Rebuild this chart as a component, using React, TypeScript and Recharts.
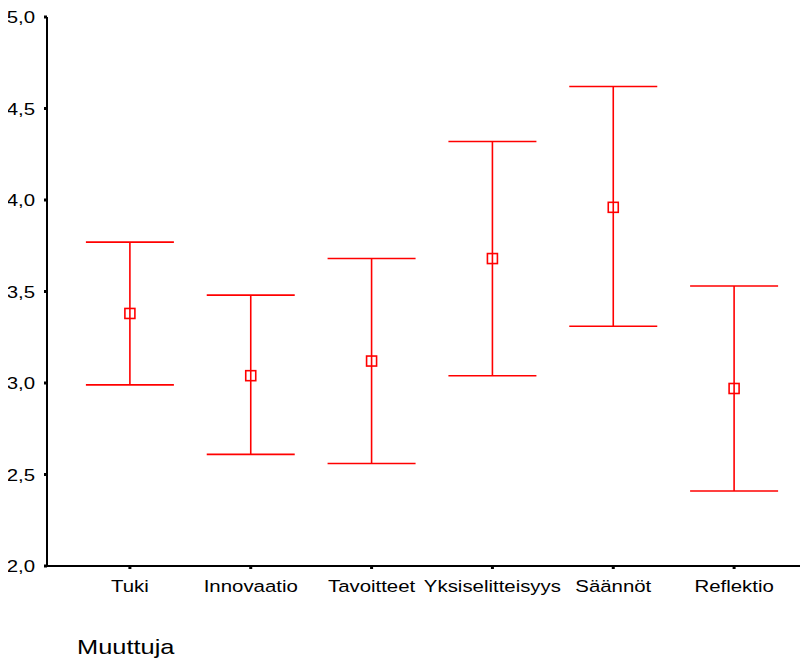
import {
    ComposedChart, Scatter, ErrorBar, XAxis, YAxis,
} from "recharts";

const CATEGORIES = ["Tuki", "Innovaatio", "Tavoitteet", "Yksiselitteisyys", "Säännöt", "Reflektio"];
const MEANS = [3.38, 3.04, 3.12, 3.68, 3.96, 2.97];
const LOWER = [2.99, 2.61, 2.56, 3.04, 3.31, 2.41];
const UPPER = [3.77, 3.48, 3.68, 4.32, 4.62, 3.53];
const Y_TICKS = [2, 2.5, 3, 3.5, 4, 4.5, 5];

const RED = "#ff0000";
const FONT = "'Liberation Sans', Arial, sans-serif";
// the original export is stretched sideways, so text is widened a bit
const STRETCH = 1.2;

const rows = CATEGORIES.map((name, i) => ({
    idx: i,
    name,
    mean: MEANS[i],
    err: [MEANS[i] - LOWER[i], UPPER[i] - MEANS[i]],
}));

function SquareMarker(props: { cx?: number; cy?: number }) {
    const { cx = 0, cy = 0 } = props;
    return <rect x={cx - 5} y={cy - 5} width={10} height={10} fill="none" stroke={RED} strokeWidth={1.6} />;
}

interface TickProps {
    x?: number;
    y?: number;
    payload?: { value: number };
}

function XTick({ x = 0, y = 0, payload }: TickProps) {
    return (
        <g transform={`translate(${x},${y})`}>
            <text transform={`scale(${STRETCH},1)`} textAnchor="middle" dy="0.71em" fontSize={17} fontFamily={FONT} fill="#000">
                {CATEGORIES[payload?.value ?? 0]}
            </text>
        </g>
    );
}

function YTick({ x = 0, y = 0, payload }: TickProps) {
    return (
        <g transform={`translate(${x},${y})`}>
            <text transform={`scale(${STRETCH},1)`} textAnchor="end" dy="0.355em" fontSize={17} fontFamily={FONT} fill="#000">
                {(payload?.value ?? 0).toFixed(1).replace(".", ",")}
            </text>
        </g>
    );
}

export default function App() {
    return (
        <div style={{ margin: -8, width: 808, height: 666, overflow: "hidden", position: "relative", background: "#fff" }}>
            <ComposedChart width={825} height={666} data={rows} margin={{ top: 17, right: 8, left: 0, bottom: 70 }}>
                <XAxis
                    dataKey="idx"
                    type="number"
                    domain={[-0.686, 5.686]}
                    ticks={[0, 1, 2, 3, 4, 5]}
                    interval={0}
                    height={30}
                    axisLine={{ stroke: "#000", strokeWidth: 2 }}
                    tickLine={{ stroke: "#000", strokeWidth: 3 }}
                    tickSize={3}
                    tickMargin={11}
                    tick={<XTick />}
                />
                <XAxis
                    xAxisId="top"
                    orientation="top"
                    dataKey="idx"
                    type="number"
                    domain={[-0.686, 5.686]}
                    tick={false}
                    tickLine={false}
                    height={0}
                    axisLine={{ stroke: "#000", strokeWidth: 2 }}
                />
                <YAxis
                    type="number"
                    domain={[2, 5]}
                    ticks={Y_TICKS}
                    width={47}
                    axisLine={{ stroke: "#000", strokeWidth: 2 }}
                    tickLine={{ stroke: "#000", strokeWidth: 3 }}
                    tickSize={3}
                    tickMargin={9}
                    tick={<YTick />}
                />
                <Scatter dataKey="mean" shape={<SquareMarker />} isAnimationActive={false}>
                    <ErrorBar dataKey="err" direction="y" width={44} stroke={RED} strokeWidth={1.6} />
                </Scatter>
            </ComposedChart>
            <div
                style={{
                    position: "absolute", left: 77, top: 636, fontFamily: FONT, fontSize: 21, lineHeight: "21px",
                    color: "#000", transform: "scaleX(1.21)", transformOrigin: "left top",
                }}
            >
                Muuttuja
            </div>
        </div>
    );
}
